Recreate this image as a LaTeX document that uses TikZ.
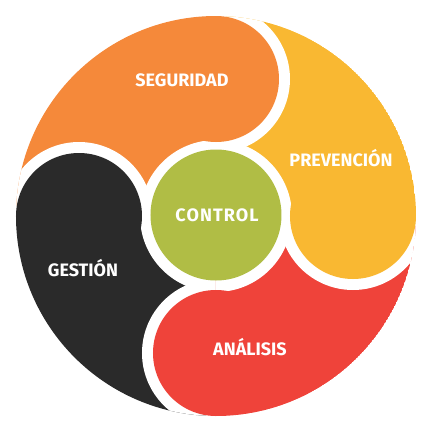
\documentclass[tikz,border=0pt]{standalone}
\usepackage{fontspec}
\setmainfont{Fira Sans}
\usetikzlibrary{positioning}
\definecolor{naranja}{HTML}{F5893A}
\definecolor{amarillo}{HTML}{F9B832}
\definecolor{rojo}{HTML}{EF433A}
\definecolor{negro}{HTML}{2A2A2A}
\definecolor{verde}{HTML}{B0BD45}

\begin{document}
\begin{tikzpicture}[x=1pt,y=1pt,
  etiqueta/.style={text=white, font=\bfseries\fontsize{18}{18}\selectfont, anchor=base, inner sep=0pt}]
  \useasboundingbox (-216,-216) rectangle (216,216);

  % colas de cada sector
  \foreach \ang/\col in {0/amarillo,90/naranja,180/negro,270/rojo} {
    \begin{scope}
      \clip (0,0) -- (\ang:200) arc[start angle=\ang, end angle=\ang+90, radius=200] -- cycle;
      \fill[\col] (0,0) circle[radius=200];
      \fill[white] (\ang+90:137) circle[radius=74];
      \fill[white] (0,0) circle[radius=76];
    \end{scope}
  }

  % lobulos
  \foreach \ang/\col in {0/amarillo,90/naranja,180/negro,270/rojo}
    \fill[\col] (\ang:137) circle[radius=63];

  \node[circle, fill=verde, minimum size=131pt, inner sep=0pt] (centro) at (0,1) {};

  \node[etiqueta] (control) at (1,-5) {\addfontfeature{LetterSpace=6}CONTROL};
  \node[etiqueta] (seguridad) at (-34,130) {SEGURIDAD};
  \node[etiqueta] (prevencion) at (125,50) {PREVENCIÓN};
  \node[etiqueta] (gestion) at (-133,-60) {GESTIÓN};
  \node[etiqueta] (analisis) at (34,-139) {ANÁLISIS};
\end{tikzpicture}
\end{document}
